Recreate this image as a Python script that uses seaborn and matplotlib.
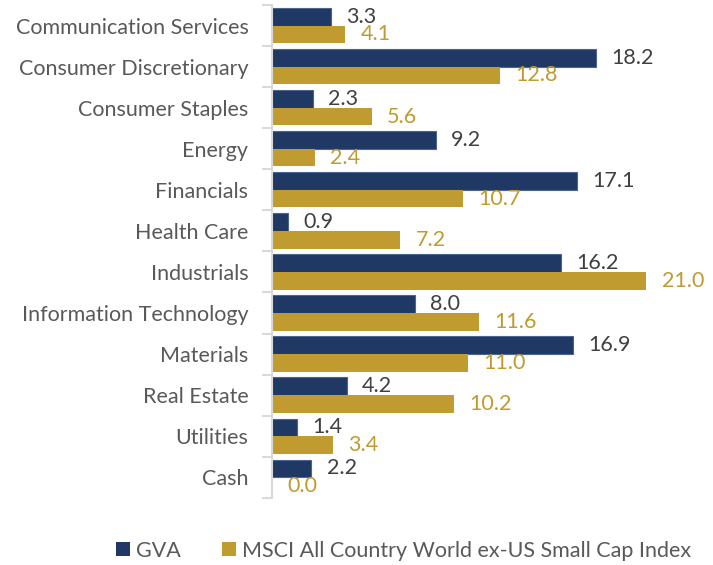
import matplotlib
matplotlib.use('Agg')
import matplotlib.pyplot as plt
import seaborn as sns
import pandas as pd
import numpy as np

sectors = ['Communication Services', 'Consumer Discretionary', 'Consumer Staples', 'Energy',
           'Financials', 'Health Care', 'Industrials', 'Information Technology',
           'Materials', 'Real Estate', 'Utilities', 'Cash']
gva = [3.3, 18.2, 2.3, 9.2, 17.1, 0.9, 16.2, 8.0, 16.9, 4.2, 1.4, 2.2]
msci = [4.1, 12.8, 5.6, 2.4, 10.7, 7.2, 21.0, 11.6, 11.0, 10.2, 3.4, 0.0]
series = ['GVA', 'MSCI All Country World ex-US Small Cap Index']

NAVY = '#1F3864'
GOLD = '#BF9B30'
GREY_TXT = '#595959'
FS = 15.5

df = pd.DataFrame({
    'sector': sectors * 2,
    'value': gva + msci,
    'series': [series[0]] * len(sectors) + [series[1]] * len(sectors),
})

sns.set_style('white')
plt.rcParams['font.family'] = ['Lato', 'DejaVu Sans']

fig = plt.figure(figsize=(7.13, 5.65), dpi=100)
ax = fig.add_axes([0.3815, 0.119, 0.6, 0.872])

sns.barplot(data=df, y='sector', x='value', hue='series', order=sectors, hue_order=series,
            palette=[NAVY, GOLD], width=0.86, orient='h', ax=ax, saturation=1,
            edgecolor='none', legend=True)

# lighter outline on the navy bars
for p in ax.containers[0]:
    p.set_edgecolor('#4A6591')
    p.set_linewidth(0.8)

ax.bar_label(ax.containers[0], labels=[f'{v:.1f}' for v in gva], padding=11,
             color='#404040', fontsize=FS)
ax.bar_label(ax.containers[1], labels=[f'{v:.1f}' for v in msci], padding=11,
             color=GOLD, fontsize=FS)

ax.set_xlim(0, 24)
ax.set_ylim(len(sectors) - 0.5, -0.5)
ax.set_xlabel('')
ax.set_ylabel('')
ax.set_xticks([])

for s in ['top', 'right', 'bottom']:
    ax.spines[s].set_visible(False)
ax.spines['left'].set_color('#D9D9D9')
ax.spines['left'].set_linewidth(1.5)

ax.set_yticks(np.arange(len(sectors)))
ax.set_yticklabels(sectors, fontsize=FS, color=GREY_TXT)
ax.set_yticks(np.arange(-0.5, len(sectors)), minor=True)
ax.tick_params(axis='y', which='major', length=0, pad=17)
ax.tick_params(axis='y', which='minor', length=7, width=1.5, color='#D9D9D9', left=True)

leg = ax.legend(loc='center', frameon=False, ncol=2, fontsize=FS,
                handlelength=0.65, handleheight=0.65,
                handletextpad=0.3, columnspacing=1.9)
leg.set_bbox_to_anchor((0.566, 0.025), transform=fig.transFigure)
for t in leg.get_texts():
    t.set_color(GREY_TXT)

fig.savefig('out.png', dpi=100)
